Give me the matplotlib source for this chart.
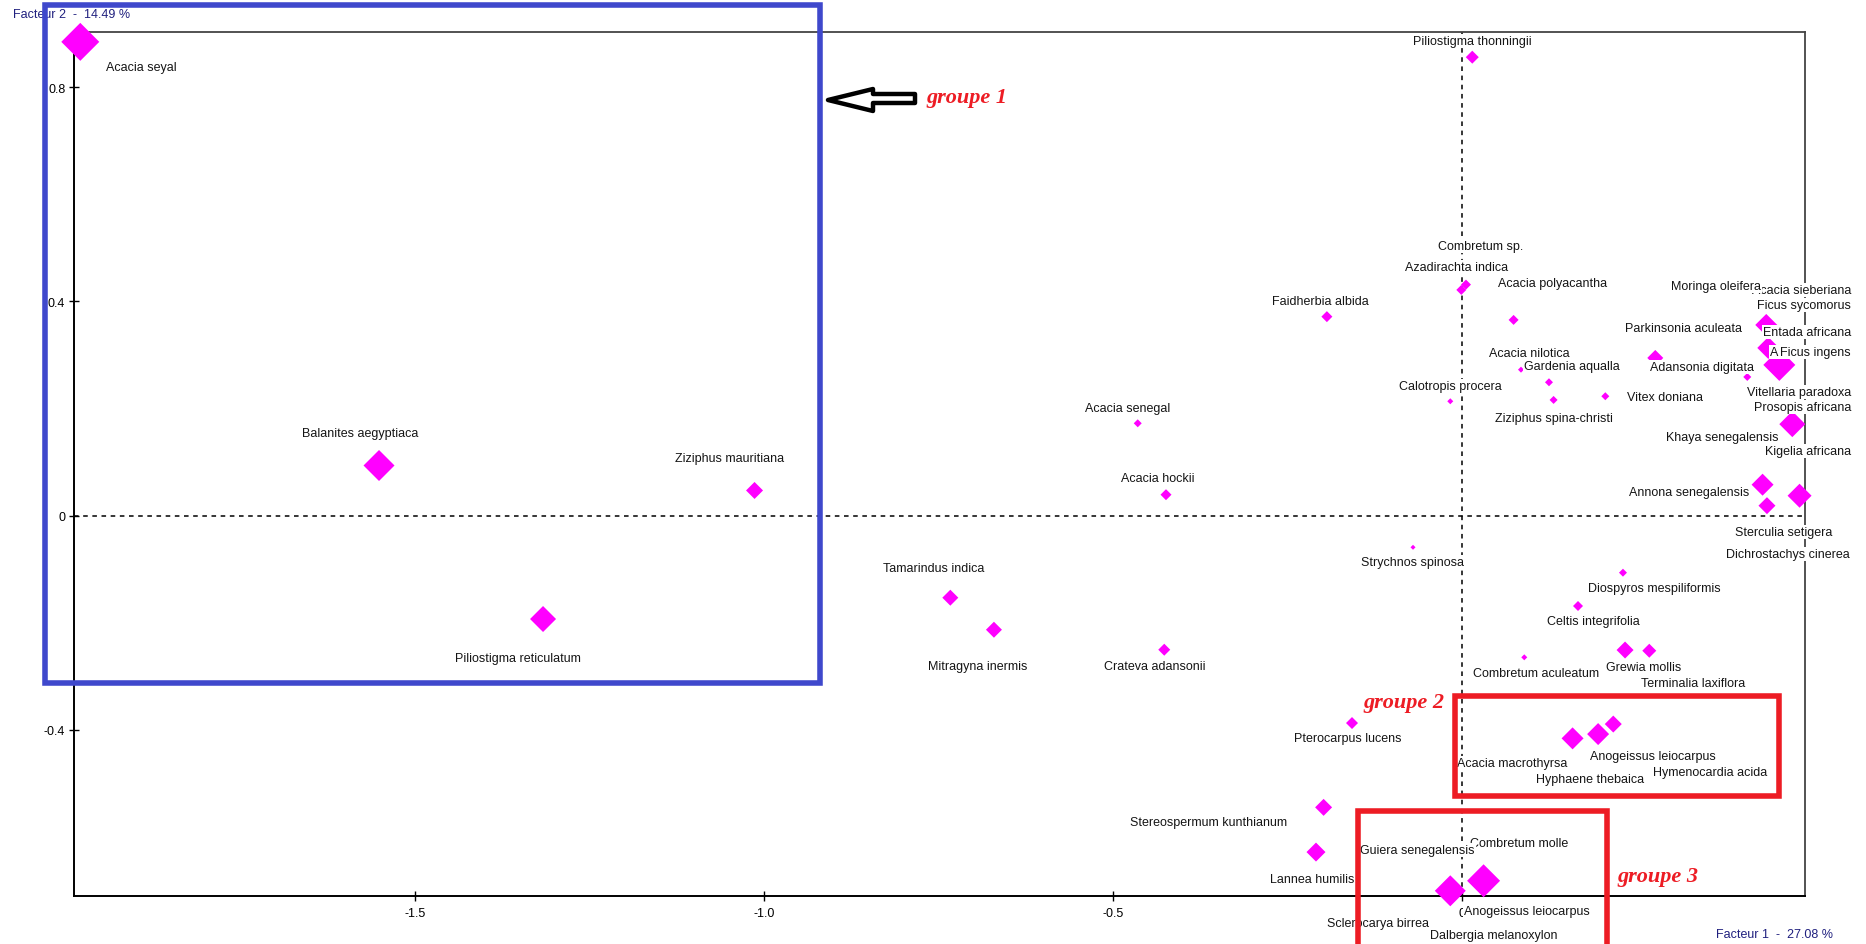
import matplotlib
matplotlib.use("Agg")
import matplotlib.pyplot as plt
from matplotlib.patches import Rectangle, Polygon
import numpy as np

# ---------------- data ----------------
species = [
    "Acacia seyal", "Balanites aegyptiaca", "Ziziphus mauritiana", "Piliostigma reticulatum",
    "Tamarindus indica", "Mitragyna inermis", "Crateva adansonii", "Acacia senegal",
    "Acacia hockii", "Faidherbia albida", "Strychnos spinosa", "Pterocarpus lucens",
    "Stereospermum kunthianum", "Lannea humilis", "Piliostigma thonningii", "Combretum sp.",
    "Azadirachta indica", "Acacia polyacantha", "Acacia nilotica", "Gardenia aqualla",
    "Calotropis procera", "Ziziphus spina-christi", "Vitex doniana", "Parkinsonia aculeata",
    "Adansonia digitata", "Acacia sieberiana", "Moringa oleifera", "Ficus sycomorus",
    "Entada africana", "A", "Ficus ingens", "Vitellaria paradoxa", "Prosopis africana",
    "Khaya senegalensis", "Kigelia africana", "Annona senegalensis", "Sterculia setigera",
    "Dichrostachys cinerea", "Diospyros mespiliformis", "Celtis integrifolia",
    "Combretum aculeatum", "Grewia mollis", "Terminalia laxiflora", "Acacia macrothyrsa",
    "Anogeissus leiocarpus", "Hyphaene thebaica", "Hymenocardia acida", "Combretum molle",
    "Guiera senegalensis", "Sclerocarya birrea", "Anogeissus leiocarpus ", "Dalbergia melanoxylon",
]
factor1 = [
    -1.980, -1.552, -1.014, -1.317,
    -0.7335, -0.671, -0.427, -0.465,
    -0.4245, -0.194, -0.0706, -0.158,
    -0.1987, -0.2096, 0.0143, 0.0053,
    -0.0014, 0.0735, 0.0841, 0.1242,
    -0.0172, 0.1308, 0.2049, 0.2765,
    0.4083, 0.4355, 0.4355, 0.4384,
    0.4542, 0.4542, 0.4542, 0.4728, 0.4728,
    0.4302, 0.4832, 0.4302, 0.4365,
    0.4832, 0.2302, 0.1658,
    0.0888, 0.2332, 0.2679, 0.1580,
    0.1946, 0.2163, 0.1946, 0.0305,
    -0.0172, -0.0172, 0.0305, -0.0172,
]
factor2 = [
    0.8846, 0.0937, 0.0471, -0.1929,
    -0.1531, -0.2129, -0.2502, 0.1725,
    0.0392, 0.3716, -0.0590, -0.3871,
    -0.5445, -0.6280, 0.8560, 0.4314,
    0.4215, 0.3655, 0.2726, 0.2491,
    0.2136, 0.2161, 0.2230, 0.2945,
    0.2590, 0.3561, 0.3561, 0.3132,
    0.2815, 0.2815, 0.2815, 0.1709, 0.1709,
    0.0579, 0.0373, 0.0579, 0.0187,
    0.0373, -0.1064, -0.1686,
    -0.2644, -0.2508, -0.2521, -0.4157,
    -0.4077, -0.3890, -0.4077, -0.6816,
    -0.7003, -0.7003, -0.6816, -0.7003,
]
# representation weight (drawn as diamond size)
weight = [
    38, 31, 17, 26,
    16, 16, 12, 8,
    11, 11, 5, 12,
    17, 19, 13, 10,
    10, 10, 6, 8,
    6, 8, 8, 16,
    8, 22, 12, 22,
    32, 14, 20, 26, 18,
    14, 24, 22, 17,
    16, 8, 10,
    6, 17, 14, 22,
    22, 17, 12, 33,
    31, 20, 20, 14,
]

xticks = [-1.5, -1.0, -0.5, 0.0]
xticklabels = ["-1.5", "-1.0", "-0.5", "0"]
yticks = [0.8, 0.4, 0.0, -0.4]
yticklabels = ["0.8", "0.4", "0", "-0.4"]
xlabel = "Facteur 1  -  27.08 %"
ylabel = "Facteur 2  -  14.49 %"
groups = ["groupe 1", "groupe 2", "groupe 3"]

# ---------------- layout (label offsets in pixels, alignment) ----------------
label_layout = [
    (26, -25.3, "left"), (-19, 32, "center"), (-25, 32, "center"), (-25, -39, "center"),
    (-17, 29.7, "center"), (-16.7, -36.3, "center"), (-10, -16.3, "center"), (-10.3, 15.3, "center"),
    (-8.7, 16.7, "center"), (42, 16, "right"), (-0.7, -14.7, "center"), (-4.7, -15, "center"),
    (-115.3, -14.4, "center"), (-3.7, -27, "center"), (0, 16.6, "center"), (14.3, 39, "center"),
    (-4.3, 22.7, "center"), (39.4, 37, "center"), (8.3, 16.4, "center"), (23, 16, "center"),
    (0, 15.6, "center"), (0.7, -18, "center"), (21.7, -1, "left"), (87, 30, "right"),
    (7, 10, "right"), (85, 35.3, "right"), (-5.3, 39.3, "right"), (83, 43, "right"),
    (72, 33.3, "right"), (-9.5, 12.7, "left"), (71, 12.7, "right"), (59, 32, "right"), (59, 16.7, "right"),
    (-40.3, 47.4, "center"), (51.7, 45, "right"), (-13.3, -7, "right"), (16.6, -26, "center"),
    (49.7, -57.8, "right"), (31.6, -15.6, "center"), (15.3, -15.3, "center"),
    (11.6, -16, "center"), (18.7, -16.7, "center"), (44, -32.6, "center"), (-60.3, -25, "center"),
    (54.7, -21.7, "center"), (-23.4, -55, "center"), (112.2, -38.3, "center"), (35.5, 37.7, "center"),
    (-33, 40.7, "center"), (-72, -32.3, "center"), (43, -30, "center"), (43, -44, "center"),
]

W, H = 1866, 945
fig = plt.figure(figsize=(W / 100, H / 100), dpi=100)
fig.patch.set_facecolor("white")


def fx(px):
    return px / W


def fy(py):
    return 1 - py / H


ax = fig.add_axes([fx(74), fy(897), fx(1805) - fx(74), fy(33) - fy(897)])
ax.set_xlim(-1.989, 0.491)
ax.set_ylim(-0.710, 0.903)

ax.axhline(0, color="black", lw=1.1, ls=(0, (3, 3)), zorder=1)
ax.axvline(0, color="black", lw=1.1, ls=(0, (3, 3)), zorder=1)

diamond = [(0, 1), (1, 0), (0, -1), (-1, 0), (0, 1)]
sizes = (np.array(weight) * 0.72) ** 2
ax.scatter(factor1, factor2, s=sizes, marker=diamond, c="#FF00FF",
           linewidths=0, zorder=3, clip_on=False)

for name, xv, yv, (dx, dy, ha) in zip(species, factor1, factor2, label_layout):
    ax.annotate(name.strip(), (xv, yv), xytext=(dx, dy), textcoords="offset pixels",
                ha=ha, va="center", fontsize=9, family="Liberation Sans", color="#151515",
                bbox=dict(boxstyle="square,pad=0.08", fc="white", ec="none"),
                annotation_clip=False, zorder=4)

for side in ["left", "bottom"]:
    ax.spines[side].set_color("black")
    ax.spines[side].set_linewidth(1.4)
for side in ["top", "right"]:
    ax.spines[side].set_color("#444444")
    ax.spines[side].set_linewidth(1.3)

ax.set_xticks(xticks)
ax.set_xticklabels(xticklabels, family=["Liberation Sans Narrow", "Liberation Sans"], fontsize=9)
ax.set_yticks(yticks)
ax.set_yticklabels(yticklabels, family="Liberation Sans", fontsize=9)
ax.tick_params(direction="inout", length=6.5, width=1, colors="black")
ax.tick_params(axis="x", pad=5)
ax.tick_params(axis="y", pad=3)

fig.text(fx(12.7), fy(18.5), ylabel, ha="left", va="baseline", fontsize=9,
         family="Liberation Sans", color="#20207F")
fig.text(fx(1716), fy(938), xlabel, ha="left", va="baseline", fontsize=9,
         family="Liberation Sans", color="#20207F")

blue = "#3F48CC"
red = "#ED1C24"
fig.add_artist(Rectangle((fx(45), fy(684)), fx(820) - fx(45), fy(6) - fy(684),
                         transform=fig.transFigure, fill=False, ec=blue, lw=4, zorder=10))
fig.add_artist(Rectangle((fx(1455), fy(797)), fx(1779) - fx(1455), fy(696.5) - fy(797),
                         transform=fig.transFigure, fill=False, ec=red, lw=4, zorder=10))
fig.add_artist(Rectangle((fx(1358), fy(965)), fx(1607) - fx(1358), fy(811.5) - fy(965),
                         transform=fig.transFigure, fill=False, ec=red, lw=4, zorder=10))

arrow_px = [(828, 101), (873, 90), (873, 95), (915, 95), (915, 104), (873, 104), (873, 112)]
fig.add_artist(Polygon([(fx(a), fy(b)) for a, b in arrow_px], closed=True,
                       transform=fig.transFigure, fc="white", ec="black", lw=3.2,
                       joinstyle="round", zorder=10))

group_pos = [(926, 98), (1363, 703), (1617, 877)]
for g, (gx, gy) in zip(groups, group_pos):
    fig.text(fx(gx), fy(gy), g, ha="left", va="center", fontsize=16, color=red,
             family="Liberation Serif", style="italic", weight="bold", zorder=11)

fig.savefig("out.png", dpi=100, facecolor="white")
